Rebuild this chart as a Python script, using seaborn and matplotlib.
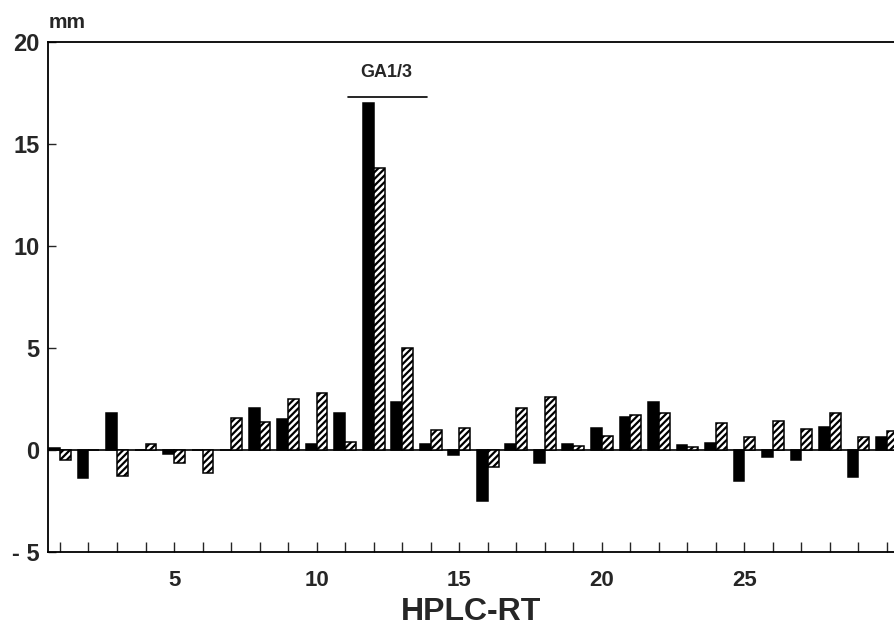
import matplotlib
matplotlib.use("Agg")
import matplotlib.pyplot as plt
import seaborn as sns
import pandas as pd

# ---- data ----
fractions = list(range(1, 31))
black_vals = [0.1, -1.35, 1.8, 0.0, -0.2, 0.0, 0.0, 2.05, 1.5, 0.3,
              1.8, 17.0, 2.35, 0.3, -0.25, -2.5, 0.3, -0.65, 0.3, 1.1,
              1.6, 2.35, 0.25, 0.35, -1.5, -0.35, -0.5, 1.15, -1.3, 0.65]
hatched_vals = [-0.5, 0.0, -1.25, 0.3, -0.65, -1.15, 1.55, 1.35, 2.5, 2.8,
                0.4, 13.8, 5.0, 1.0, 1.1, -0.85, 2.05, 2.6, 0.2, 0.7,
                1.7, 1.8, 0.15, 1.3, 0.65, 1.4, 1.05, 1.8, 0.65, 0.95]
series_names = ["A", "B"]
y_ticks = [-5, 0, 5, 10, 15, 20]
y_tick_labels = ["- 5", "0", "5", "10", "15", "20"]
x_label_ticks = [5, 10, 15, 20, 25]
peak_label = "GA1/3"

df = pd.DataFrame({
    "RT": fractions * 2,
    "value": black_vals + hatched_vals,
    "series": [series_names[0]] * len(fractions) + [series_names[1]] * len(fractions),
})

sns.set_style("white")
plt.rcParams["font.family"] = ["Liberation Sans", "DejaVu Sans"]
plt.rcParams["axes.unicode_minus"] = False
plt.rcParams["hatch.linewidth"] = 1.6
plt.rcParams["hatch.color"] = "black"

fig = plt.figure(figsize=(8.95, 6.27), dpi=100)
ax = fig.add_axes([48 / 895, (627 - 552) / 627, 1 - 48 / 895, (552 - 42) / 627])

sns.barplot(data=df, x="RT", y="value", hue="series", native_scale=True,
            palette=["black", "white"], edgecolor="black", linewidth=1.1,
            width=0.76, dodge=True, errorbar=None, legend=False, ax=ax,
            saturation=1)

for patch in ax.containers[1]:
    patch.set_hatch("/////")
    patch.set_facecolor("white")
    patch.set_edgecolor("black")

ax.axhline(0, color="black", lw=1.2, zorder=0.5)

ax.set_xlim(0.58, 30.28)
ax.set_ylim(-5, 20)

ax.set_xticks(fractions)
ax.set_xticklabels([str(f) if f in x_label_ticks else "" for f in fractions])
ax.set_yticks(y_ticks)
ax.set_yticklabels(y_tick_labels)

ax.tick_params(axis="x", direction="in", length=7, width=1.0, pad=13,
               labelsize=16, bottom=True, top=False)
ax.tick_params(axis="y", direction="in", length=6, width=1.0, pad=6,
               labelsize=17, left=True, right=False)
for lab in ax.get_xticklabels() + ax.get_yticklabels():
    lab.set_fontweight("bold")

for side in ["left", "top", "bottom"]:
    ax.spines[side].set_visible(True)
    ax.spines[side].set_color("black")
    ax.spines[side].set_linewidth(1.3)
ax.spines["right"].set_visible(False)

ax.set_xlabel("HPLC-RT", fontsize=23, fontweight="bold", labelpad=4)
ax.set_ylabel("")

fig.text(49 / 895, 1 - 28 / 627, "mm", fontsize=15, fontweight="bold",
         ha="left", va="baseline")

ax.plot([11.1, 13.87], [17.3, 17.3], color="black", lw=1.2, clip_on=False)
ax.text(12.45, 18.3, peak_label, fontsize=13, fontweight="bold",
        ha="center", va="baseline")

fig.savefig("out.png", dpi=100)
